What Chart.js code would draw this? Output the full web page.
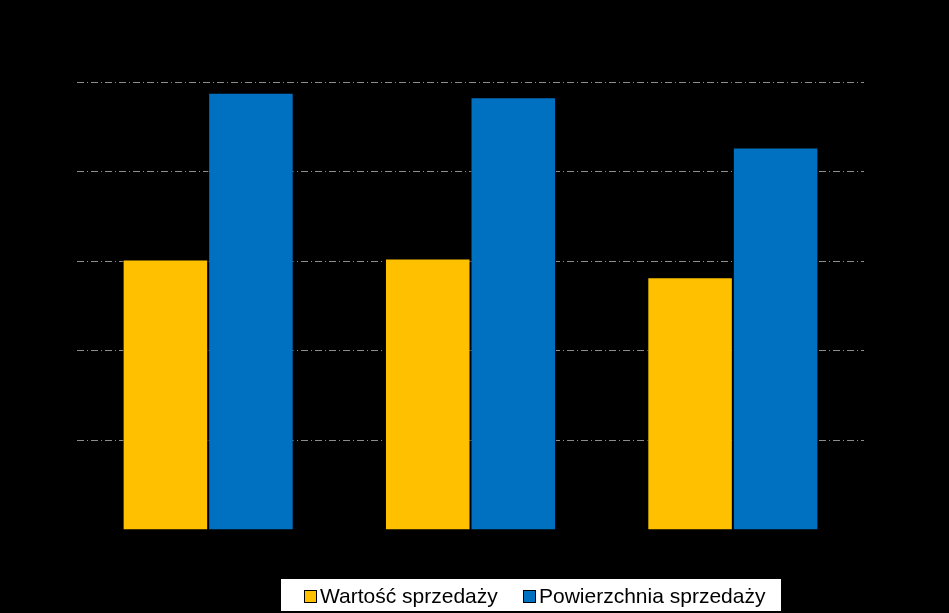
<!DOCTYPE html>
<html>
<head>
<meta charset="utf-8">
<script src="https://cdn.jsdelivr.net/npm/chart.js@4"></script>
<style>
    html, body { margin: 0; padding: 0; background: #000; }
    #wrap { position: relative; width: 949px; height: 613px; }
    #legend {
        position: absolute; left: 281px; top: 579px; width: 500px; height: 32px;
        background: #fff; font-family: "Liberation Sans", Arial, sans-serif; font-size: 21px; color: #000;
    }
    .item { position: absolute; top: 0; height: 32px; line-height: 32px; white-space: nowrap; }
    .box { position: absolute; top: 11px; width: 11px; height: 11px; border: 1px solid #000; }
    .txt { position: absolute; left: 16px; top: 1px; }
</style>
</head>
<body>
<div id="wrap">
    <canvas id="chart" width="949" height="613"></canvas>
    <div id="legend"></div>
</div>
<script>
// chart data
const categories = ['1', '2', '3'];
const seriesNames = ['Wartość sprzedaży', 'Powierzchnia sprzedaży'];
const salesValue = [30.2, 30.3, 28.2];
const salesArea = [48.8, 48.3, 42.7];
const seriesColors = ['#FFC000', '#0070C0'];

const ctx = document.getElementById('chart').getContext('2d');
const chart = new Chart(ctx, {
    type: 'bar',
    data: {
        labels: categories,
        datasets: [
            { label: seriesNames[0], data: salesValue, backgroundColor: seriesColors[0], borderColor: '#000', borderWidth: 1 },
            { label: seriesNames[1], data: salesArea, backgroundColor: seriesColors[1], borderColor: '#000', borderWidth: 1 }
        ]
    },
    options: {
        responsive: false,
        animation: false,
        layout: { padding: { left: 77, right: 85, top: 82, bottom: 83 } },
        plugins: {
            legend: { display: false },
            tooltip: { enabled: false }
        },
        datasets: {
            bar: { categoryPercentage: 0.652, barPercentage: 1 }
        },
        scales: {
            x: {
                ticks: { display: false },
                grid: { display: false, drawTicks: false },
                border: { display: false }
            },
            y: {
                min: 0,
                max: 50,
                ticks: { display: false, stepSize: 10 },
                grid: {
                    drawTicks: false,
                    color: c => c.tick && c.tick.value === 0 ? 'rgba(0,0,0,0)' : '#8c8c8c',
                    lineWidth: 1
                },
                border: { display: false, dash: [7, 3, 1, 3] }
            }
        }
    }
});

// legend in a white box below the plot
const legend = document.getElementById('legend');
const itemLeft = [23, 242];
chart.data.datasets.forEach((ds, i) => {
    const item = document.createElement('div');
    item.className = 'item';
    item.style.left = itemLeft[i] + 'px';
    const box = document.createElement('span');
    box.className = 'box';
    box.style.background = ds.backgroundColor;
    const txt = document.createElement('span');
    txt.className = 'txt';
    txt.textContent = ds.label;
    item.appendChild(box);
    item.appendChild(txt);
    legend.appendChild(item);
});
</script>
</body>
</html>
